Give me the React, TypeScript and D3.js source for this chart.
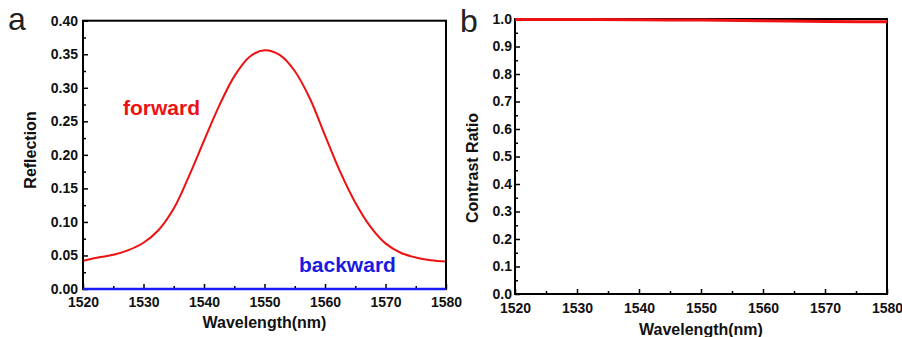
import React, { useEffect, useRef } from "react";
import * as d3 from "d3";

// panel a: reflection spectra
const wavelength = [1520, 1522.5, 1525, 1527.5, 1530, 1532.5, 1535, 1537.5, 1540, 1542.5, 1545, 1547.5, 1550,
  1552.5, 1555, 1557.5, 1560, 1562.5, 1565, 1567.5, 1570, 1572.5, 1575, 1577.5, 1580];
const forward = [0.042, 0.047, 0.051, 0.058, 0.069, 0.088, 0.120, 0.168, 0.221, 0.273, 0.317, 0.346, 0.356,
  0.349, 0.325, 0.284, 0.229, 0.175, 0.129, 0.093, 0.068, 0.054, 0.047, 0.043, 0.041];
const backward = [0, 0, 0, 0, 0, 0, 0, 0, 0, 0, 0, 0, 0, 0, 0, 0, 0, 0, 0, 0, 0, 0, 0, 0, 0];

// panel b: contrast ratio
const contrastWl = [1520, 1530, 1540, 1550, 1560, 1570, 1580];
const contrast = [0.998, 0.998, 0.997, 0.996, 0.994, 0.991, 0.990];

const xTicks = [1520, 1530, 1540, 1550, 1560, 1570, 1580];
const xMinor = [1525, 1535, 1545, 1555, 1565, 1575];
const yTicksA = [0, 0.05, 0.1, 0.15, 0.2, 0.25, 0.3, 0.35, 0.4];
const yMinorA = [0.025, 0.075, 0.125, 0.175, 0.225, 0.275, 0.325, 0.375];
const yTicksB = [0, 0.1, 0.2, 0.3, 0.4, 0.5, 0.6, 0.7, 0.8, 0.9, 1.0];
const yMinorB = [0.05, 0.15, 0.25, 0.35, 0.45, 0.55, 0.65, 0.75, 0.85, 0.95];

const FONT = "'Liberation Sans', Arial, sans-serif";

export default function App() {
  const svgRef = useRef<SVGSVGElement>(null);

  useEffect(() => {
    const svg = d3.select(svgRef.current);
    svg.selectAll("*").remove();

    const panel = (opts: any) => {
      const { x0, x1, y0, y1, yMax, yTicks, yMinor, yFmt, yPad, xPad, yTitle, yTitleX, yTitleY, xTitleY, letter, letterX, letterY } = opts;
      const x = d3.scaleLinear().domain([1520, 1580]).range([x0, x1]);
      const y = d3.scaleLinear().domain([0, yMax]).range([y0, y1]);
      const g = svg.append("g");

      // minor ticks
      g.append("g").attr("transform", `translate(0,${y0})`)
        .call(d3.axisBottom(x).tickValues(xMinor).tickSize(-3).tickFormat(() => ""))
        .call(s => s.select(".domain").remove());
      g.append("g").attr("transform", `translate(${x0},0)`)
        .call(d3.axisLeft(y).tickValues(yMinor).tickSize(-3).tickFormat(() => ""))
        .call(s => s.select(".domain").remove());

      // major ticks + labels
      const xa = g.append("g").attr("transform", `translate(0,${y0})`)
        .call(d3.axisBottom(x).tickValues(xTicks).tickSize(-5).tickPadding(xPad).tickFormat(d3.format("d")));
      const ya = g.append("g").attr("transform", `translate(${x0},0)`)
        .call(d3.axisLeft(y).tickValues(yTicks).tickSize(-5).tickPadding(yPad).tickFormat(d3.format(yFmt)));
      [xa, ya].forEach(a => {
        a.select(".domain").remove();
        a.selectAll("text").attr("font-family", FONT).attr("font-size", 14).attr("font-weight", "bold").attr("fill", "#111");
      });
      g.selectAll("line").attr("stroke", "#000").attr("stroke-width", 1.5);

      g.append("text").attr("x", (x0 + x1) / 2).attr("y", xTitleY).attr("text-anchor", "middle")
        .attr("font-family", FONT).attr("font-size", 16).attr("font-weight", "bold").attr("fill", "#111")
        .text("Wavelength(nm)");
      g.append("text").attr("transform", `translate(${yTitleX},${yTitleY}) rotate(-90)`).attr("text-anchor", "middle")
        .attr("font-family", FONT).attr("font-size", 16).attr("font-weight", "bold").attr("fill", "#111")
        .text(yTitle);
      g.append("text").attr("x", letterX).attr("y", letterY)
        .attr("font-family", FONT).attr("font-size", 32).attr("fill", "#222").text(letter);

      return { g, x, y };
    };

    // panel a
    const a = panel({
      x0: 83, x1: 446, y0: 289, y1: 20.7, yMax: 0.4, yTicks: yTicksA, yMinor: yMinorA, yFmt: ".2f",
      yPad: 5, xPad: 8, yTitle: "Reflection", yTitleX: 36, yTitleY: 150, xTitleY: 328,
      letter: "a", letterX: 8, letterY: 30,
    });
    const lineA = d3.line<number>()
      .x((_, i) => a.x(wavelength[i]))
      .curve(d3.curveCatmullRom.alpha(0.5));
    a.g.append("path").datum(forward)
      .attr("d", lineA.y(d => a.y(d)) as any)
      .attr("fill", "none").attr("stroke", "#ee1111").attr("stroke-width", 2);
    a.g.append("rect").attr("x", 83).attr("y", 20.7).attr("width", 446 - 83).attr("height", 289 - 20.7)
      .attr("fill", "none").attr("stroke", "#000").attr("stroke-width", 2);
    // backward lies on the bottom frame edge
    a.g.append("path").datum(backward)
      .attr("d", lineA.y(d => a.y(d)) as any)
      .attr("fill", "none").attr("stroke", "#1a1aff").attr("stroke-width", 2.5);
    a.g.append("text").attr("x", 123).attr("y", 115).attr("font-family", FONT).attr("font-size", 21)
      .attr("font-weight", "bold").attr("fill", "#ee1111").text("forward");
    a.g.append("text").attr("x", 299).attr("y", 272).attr("font-family", FONT).attr("font-size", 21)
      .attr("font-weight", "bold").attr("fill", "#1a1ae0").text("backward");

    // panel b
    const b = panel({
      x0: 515, x1: 887, y0: 294, y1: 19, yMax: 1.0, yTicks: yTicksB, yMinor: yMinorB, yFmt: ".1f",
      yPad: 3, xPad: 9, yTitle: "Contrast Ratio", yTitleX: 478, yTitleY: 168, xTitleY: 335,
      letter: "b", letterX: 460, letterY: 32,
    });
    b.g.append("rect").attr("x", 515).attr("y", 19).attr("width", 887 - 515).attr("height", 294 - 19)
      .attr("fill", "none").attr("stroke", "#000").attr("stroke-width", 2);
    b.g.append("path").datum(contrast)
      .attr("d", d3.line<number>().x((_, i) => b.x(contrastWl[i])).y(d => b.y(d)).curve(d3.curveMonotoneX) as any)
      .attr("fill", "none").attr("stroke", "#ee1111").attr("stroke-width", 3);
  }, []);

  return (
    <svg ref={svgRef} width={902} height={337}
      style={{ position: "absolute", left: 0, top: 0, background: "#fff" }} />
  );
}
